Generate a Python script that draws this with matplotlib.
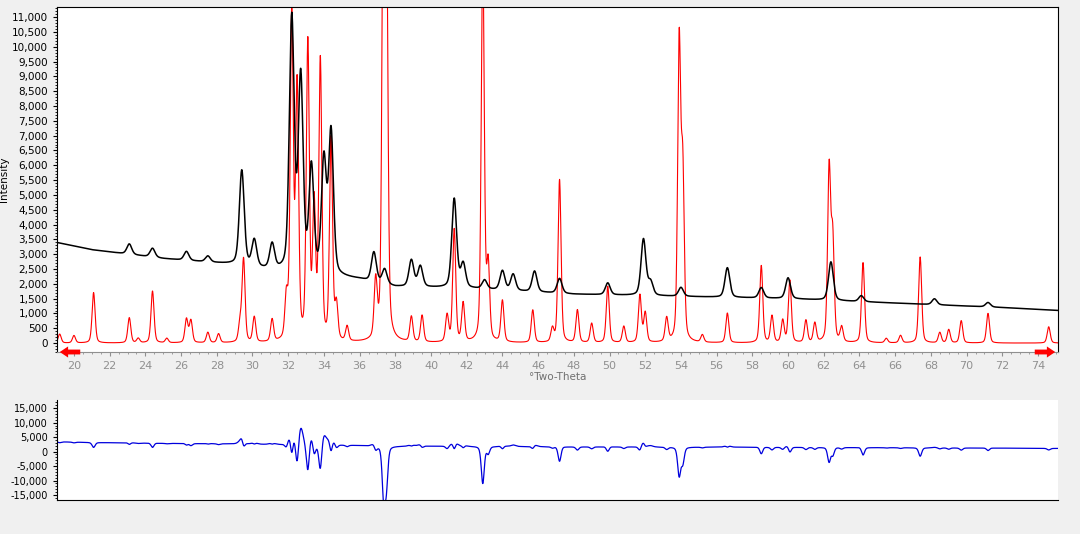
import matplotlib.pyplot as plt
import numpy as np
from matplotlib.ticker import FuncFormatter, MultipleLocator

# calculated pattern peaks (two-theta, height, fwhm)
red_pos = [19.2, 20.0, 21.1, 23.1, 23.6, 24.4, 25.2, 26.3, 26.55, 27.5, 28.1, 29.3, 29.5, 30.1, 31.1, 31.9,
           32.2, 32.5, 33.1, 33.45, 33.8, 34.4, 34.7, 35.3, 36.9, 37.35, 37.5, 38.9, 39.5, 40.9, 41.3, 41.8,
           42.9, 43.2, 44.0, 45.7, 46.8, 47.2, 48.2, 49.0, 49.9, 50.8, 51.7, 52.0, 53.2, 53.9, 54.1, 55.2,
           56.6, 58.5, 59.1, 59.7, 60.1, 61.0, 61.5, 62.3, 62.5, 63.0, 64.2, 65.5, 66.3, 67.4, 68.5, 69.0,
           69.7, 71.2, 74.6]
red_h = [300, 250, 1700, 850, 150, 1750, 150, 800, 750, 350, 300, 600, 2800, 850, 750, 1400,
         11000, 8500, 10000, 4500, 9400, 6800, 1200, 500, 1900, 18000, 13000, 850, 900, 900, 3800, 1300,
         13000, 2500, 1400, 1100, 450, 5500, 1100, 650, 1900, 550, 1600, 1000, 800, 10000, 5600, 250,
         1000, 2600, 900, 750, 2100, 750, 650, 5800, 3400, 500, 2700, 150, 250, 2900, 350, 450,
         750, 1000, 550]
red_w = [0.2] * len(red_pos)

# measured pattern: background and peaks
bg_x = [19.0, 21.0, 25.0, 29.0, 31.0, 33.0, 36.0, 38.0, 42.0, 48.0, 52.0, 56.0, 60.0, 64.0, 68.0, 72.0, 75.2]
bg_y = [3400, 3150, 2850, 2650, 2450, 2350, 2150, 1900, 1850, 1650, 1600, 1550, 1500, 1400, 1300, 1200, 1100]
blk_pos = [23.1, 24.4, 26.3, 27.5, 29.4, 30.1, 31.1, 32.2, 32.7, 33.3, 34.0, 34.4, 36.8, 37.4, 38.9, 39.4,
           41.3, 41.8, 43.0, 44.0, 44.6, 45.8, 47.2, 49.9, 51.9, 52.3, 54.0, 56.6, 58.5, 60.0, 62.4, 64.1,
           68.2, 71.2]
blk_h = [350, 300, 300, 200, 3200, 900, 850, 8500, 6500, 3500, 3800, 4800, 1000, 500, 900, 700,
         3000, 800, 300, 650, 550, 700, 500, 400, 1900, 450, 300, 1000, 350, 700, 1300, 200,
         200, 150]
blk_w = [0.32] * len(blk_pos)

tt = np.arange(19.05, 75.12, 0.01)


def profile(pos, h, w, eta=0.35):
    y = np.zeros_like(tt)
    for p, a, f in zip(pos, h, w):
        d = (tt - p) / (f / 2)
        y += a * (eta / (1 + d ** 2) + (1 - eta) * np.exp(-np.log(2) * d ** 2))
    return y


red = profile(red_pos, red_h, red_w)
black = np.interp(tt, bg_x, bg_y) + profile(blk_pos, blk_h, blk_w)
blue = black - red

fig = plt.figure(figsize=(10.8, 5.34), dpi=100, facecolor="#f0f0f0")
ax = fig.add_axes([57 / 1080, 1 - 352 / 534, 1001 / 1080, 345 / 534])
ax2 = fig.add_axes([57 / 1080, 1 - 500 / 534, 1001 / 1080, 100 / 534], sharex=ax)

ax.plot(tt, red, color="#ff0000", lw=0.8)
ax.plot(tt, black, color="black", lw=1.1)
ax.set_xlim(19.05, 75.12)
ax.set_ylim(-300, 11340)
ax.yaxis.set_major_locator(MultipleLocator(500))
ax.yaxis.set_minor_locator(MultipleLocator(100))
ax.xaxis.set_major_locator(MultipleLocator(2))
ax.xaxis.set_minor_locator(MultipleLocator(0.5))
fmt = FuncFormatter(lambda v, p: f"{int(v):,}")
ax.yaxis.set_major_formatter(fmt)
ax.tick_params(axis="y", labelsize=7.5, length=3)
ax.tick_params(axis="y", which="minor", length=1.5)
ax.tick_params(axis="x", labelsize=8, labelcolor="#909090", color="#909090", length=3)
ax.tick_params(axis="x", which="minor", color="#909090", length=1.5)
ax.set_xlabel("°Two-Theta", fontsize=7.5, color="#707070", labelpad=1)
ax.set_ylabel("Intensity", fontsize=7.5, labelpad=2)
ax.spines["bottom"].set_color("#909090")

ax.annotate("", xy=(0.0, 0.0), xytext=(0.026, 0.0), xycoords="axes fraction",
            arrowprops=dict(arrowstyle="simple,head_length=0.6,head_width=0.8,tail_width=0.35",
                            color="#ff0000", lw=0))
ax.annotate("", xy=(1.0, 0.0), xytext=(0.974, 0.0), xycoords="axes fraction",
            arrowprops=dict(arrowstyle="simple,head_length=0.6,head_width=0.8,tail_width=0.35",
                            color="#ff0000", lw=0))

ax2.plot(tt, blue, color="#0000dd", lw=0.9)
ax2.set_ylim(-16700, 17800)
ax2.set_yticks(np.arange(-15000, 15001, 5000))
ax2.yaxis.set_minor_locator(MultipleLocator(1000))
ax2.yaxis.set_major_formatter(fmt)
ax2.tick_params(axis="y", labelsize=7, length=3)
ax2.tick_params(axis="y", which="minor", length=1.5)
ax2.tick_params(axis="x", which="both", bottom=False, labelbottom=False)
for s in ["top", "right"]:
    ax2.spines[s].set_visible(False)

fig.savefig("out.png", dpi=100, facecolor=fig.get_facecolor())
